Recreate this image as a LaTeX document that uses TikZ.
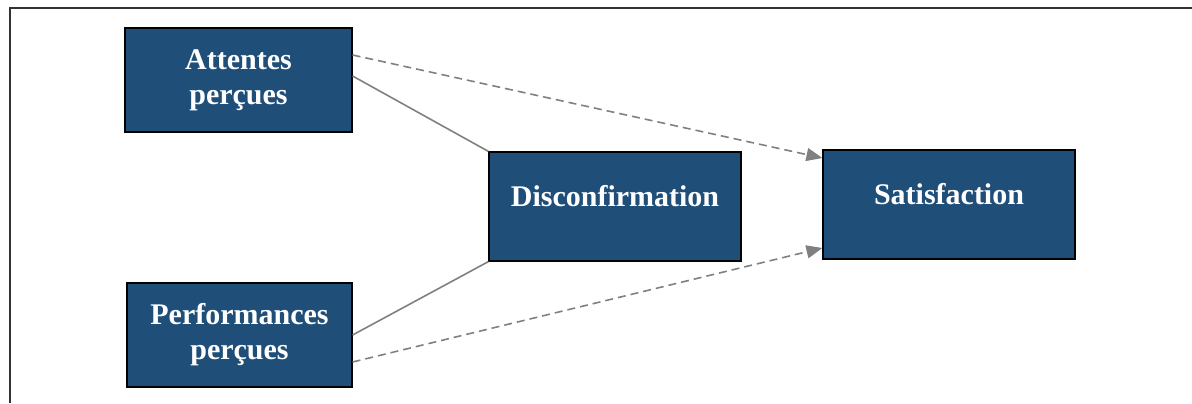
\documentclass[tikz,border=0pt]{standalone}
\usepackage{fontspec}
\setmainfont{Liberation Serif}
\usetikzlibrary{arrows.meta,calc}
\definecolor{boxblue}{RGB}{31,78,121}
\definecolor{linkgray}{RGB}{128,128,128}
\tikzset{
  varbox/.style={draw=black,line width=0.6pt,fill=boxblue,text=white,
    font=\bfseries\fontsize{15}{17.5}\selectfont,align=center,inner sep=0pt,
    minimum height=52pt},
  onebox/.style={varbox,minimum width=126pt,minimum height=54.5pt,
    text height=10pt,text depth=10pt},
  link/.style={draw=linkgray,line width=0.8pt},
  effect/.style={link,dash pattern=on 4pt off 2.5pt,
    -{Triangle[length=8pt,width=6.5pt]}}
}
\begin{document}
\begin{tikzpicture}[x=0.5pt,y=-0.5pt]
\useasboundingbox (0,0) rectangle (1192,403);
\draw[line width=1pt,black!80] (9.5,403) -- (9.5,7.5) -- (1192,7.5);
\node[varbox,minimum width=113.5pt] (att) at (238.5,80) {Attentes\\perçues};
\node[varbox,minimum width=112.5pt] (perf) at (239.5,335) {Performances\\perçues};
\node[onebox] (dis) at (615,206.5) {Disconfirmation};
\node[onebox] (sat) at (949,204.5) {Satisfaction};
\draw[link] ($(att.east)+(0,-4)$) -- (dis.north west);
\draw[link] (perf.east) -- (dis.south west);
\draw[effect] ($(att.east)+(0,-25)$) -- ($(sat.west)+(0,-46.5)$);
\draw[effect] ($(perf.east)+(0,27)$) -- ($(sat.west)+(0,43.5)$);
\end{tikzpicture}
\end{document}
